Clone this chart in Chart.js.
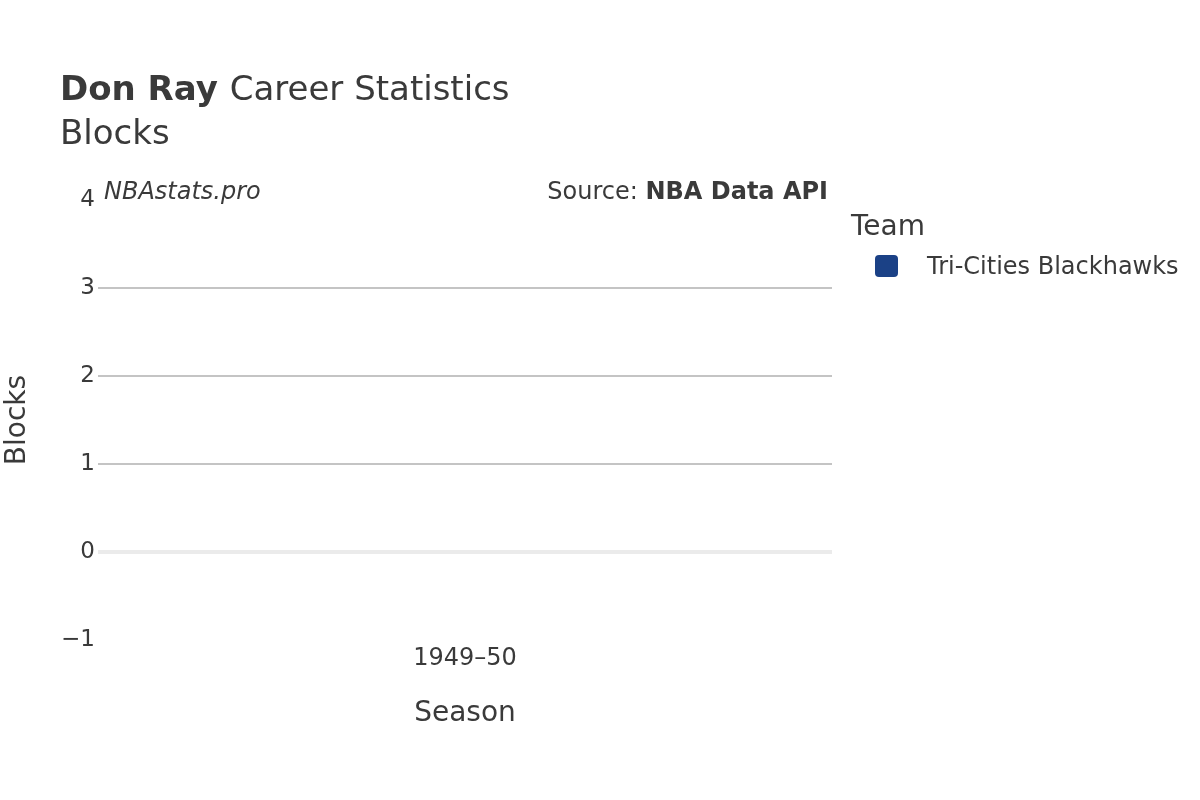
<!DOCTYPE html>
<html>
<head>
<meta charset="utf-8">
<script src="https://cdn.jsdelivr.net/npm/chart.js@4/dist/chart.umd.min.js"></script>
<style>
html,body{margin:0;padding:0;background:#fff;}
#wrap{width:1200px;height:800px;position:relative;}
</style>
</head>
<body>
<div id="wrap"><canvas id="c" width="1200" height="800"></canvas></div>
<script>
const seasons = ['1949\u201350'];
const blocks = [0];
const teamName = 'Tri-Cities Blackhawks';
const teamColor = '#1b4186';
const yTicks = [-1, 0, 1, 2, 3, 4];

const FONT = '"DejaVu Sans", sans-serif';
const TXT = '#3a3a3a';

const overlay = {
  id: 'overlay',
  afterDraw(chart) {
    const ctx = chart.ctx;
    const a = chart.chartArea;
    ctx.save();
    ctx.fillStyle = TXT;
    ctx.textBaseline = 'middle';
    // Title
    ctx.textAlign = 'left';
    ctx.font = 'bold 34px ' + FONT;
    ctx.fillText('Don Ray', 60, 91);
    const w = ctx.measureText('Don Ray ').width;
    ctx.font = '34px ' + FONT;
    ctx.fillText('Career Statistics', 60 + w, 91);
    ctx.fillText('Blocks', 60, 135);
    // annotations
    ctx.font = 'italic 24px ' + FONT;
    ctx.fillText('NBAstats.pro', 104, 193);
    ctx.textAlign = 'right';
    ctx.font = 'bold 24px ' + FONT;
    const bw = ctx.measureText('NBA Data API').width;
    ctx.fillText('NBA Data API', 828, 193);
    ctx.font = '24px ' + FONT;
    ctx.fillText('Source: ', 828 - bw, 193);
    // axis titles
    ctx.textAlign = 'center';
    ctx.font = '28px ' + FONT;
    ctx.fillText('Season', (a.left + a.right) / 2, 714);
    ctx.save();
    ctx.translate(18, (a.top + a.bottom) / 2);
    ctx.rotate(-Math.PI / 2);
    ctx.fillText('Blocks', 0, 0);
    ctx.restore();
    // legend
    ctx.textAlign = 'left';
    ctx.font = '28px ' + FONT;
    ctx.fillText('Team', 851, 228);
    chart.data.datasets.forEach((ds, i) => {
      const y = 266 + i * 30;
      ctx.fillStyle = ds.backgroundColor;
      ctx.beginPath();
      ctx.roundRect(875, y - 11, 23, 22, 4);
      ctx.fill();
      ctx.fillStyle = TXT;
      ctx.font = '24px ' + FONT;
      ctx.fillText(ds.label, 927, y + 2);
    });
    ctx.restore();
  }
};

new Chart(document.getElementById('c'), {
  type: 'bar',
  data: {
    labels: seasons,
    datasets: [{ label: teamName, data: blocks, backgroundColor: teamColor }]
  },
  options: {
    responsive: false,
    animation: false,
    layout: { padding: { left: 38, right: 368, top: 200, bottom: 60 } },
    plugins: { legend: { display: false }, tooltip: { enabled: false } },
    scales: {
      x: {
        grid: { display: false, drawTicks: false },
        border: { display: false },
        ticks: { color: TXT, font: { family: FONT, size: 24 }, padding: 4, maxRotation: 0 },
        afterFit(s) { s.height = 100; }
      },
      y: {
        min: -1, max: 4,
        afterBuildTicks(s) { s.ticks = yTicks.map(v => ({ value: v })); },
        grid: {
          drawTicks: false,
          color: c => (c.tick.value === 0 ? '#ebebeb' : (c.tick.value === -1 || c.tick.value === 4 ? 'rgba(0,0,0,0)' : '#c4c4c4')),
          lineWidth: c => (c.tick.value === 0 ? 4 : 2)
        },
        border: { display: false },
        ticks: {
          color: TXT, font: { family: FONT, size: 23 }, padding: 3,
          callback: v => (v < 0 ? '\u2212' + Math.abs(v) : String(v))
        },
        afterFit(s) { s.width = 60; }
      }
    }
  },
  plugins: [overlay]
});
</script>
</body>
</html>
